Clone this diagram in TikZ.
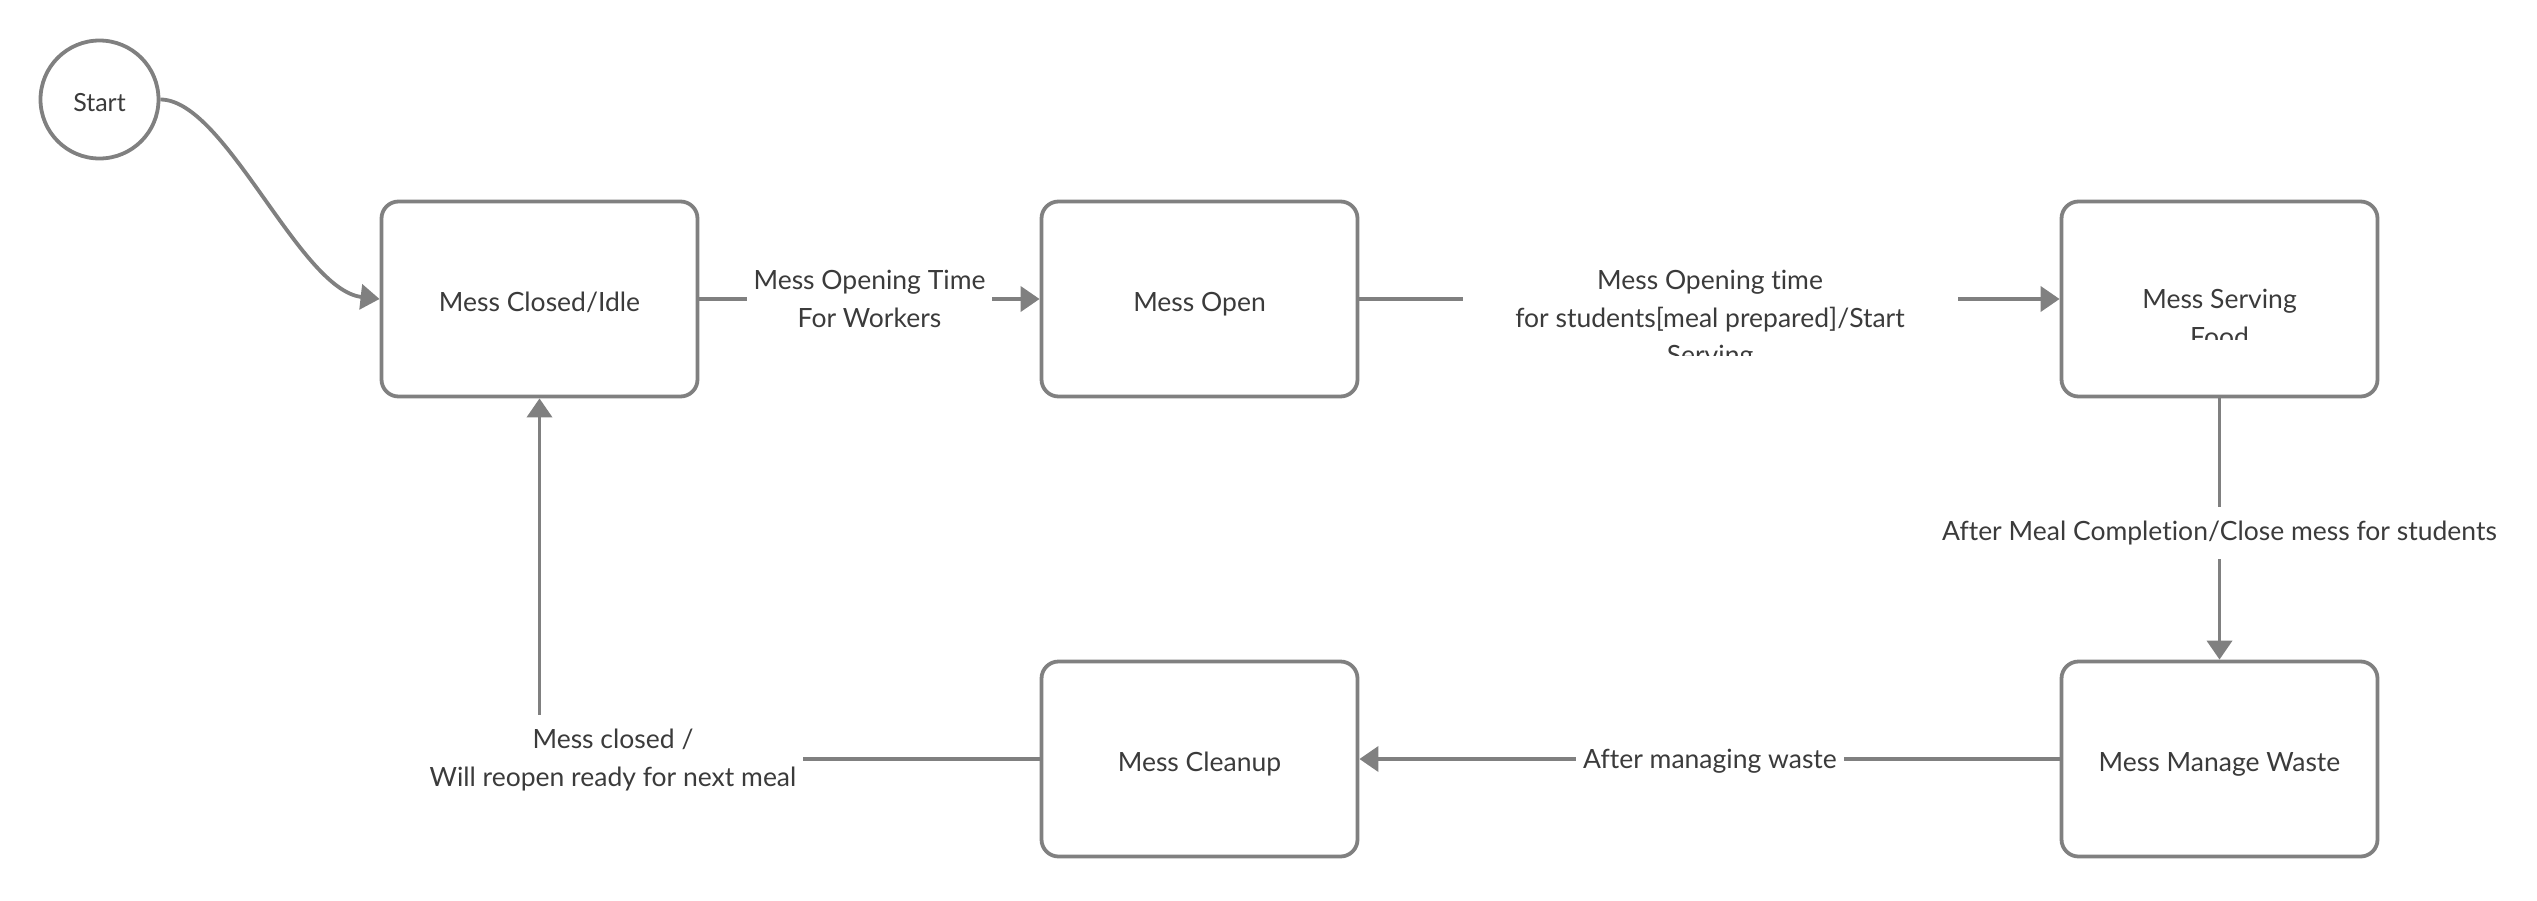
\documentclass[tikz,border=0pt]{standalone}
\usepackage{fontspec}
\setmainfont{Lato}[Ligatures=NoCommon]
\usetikzlibrary{arrows.meta}
\definecolor{lc}{HTML}{808080}
\definecolor{tc}{HTML}{3B3B3B}
\begin{document}
\begin{tikzpicture}[x=1pt,y=-1pt,
  every node/.style={font=\fontsize{26.5}{37.5}\selectfont, text=tc},
  state/.style={draw=lc, line width=3.8pt, rounded corners=17pt, minimum width=316pt, minimum height=195pt, inner sep=0pt, text height=25pt, text depth=0pt},
  startnode/.style={draw=lc, line width=3.8pt, circle, minimum size=118pt, inner sep=0pt, text height=23pt, text depth=0pt, font=\fontsize{25}{30}\selectfont},
  conn/.style={draw=lc, line width=3.8pt, -{Triangle[length=19pt,width=25pt]}},
  lbl/.style={fill=white, align=center, inner xsep=7pt, inner ysep=14pt}]
\useasboundingbox (0,0) rectangle (2537,900);

\node[startnode] (start) at (99.5,99.5) {Start};
\node[state] (closed) at (539.5,299) {Mess Closed/Idle};
\node[state] (open) at (1199.5,299) {Mess Open};
\node[state] (serving) at (2219.5,299) {};
\node[state] (waste) at (2219.5,759) {Mess Manage Waste};
\node[state] (cleanup) at (1199.5,759) {Mess Cleanup};

\begin{scope}
  \clip (2062,202) rectangle (2377,339);
  \node[anchor=north, align=center, inner sep=0pt] (servingtext) at (2219.5,289.4) {Mess Serving\\Food};
\end{scope}

\draw[conn] (start.east) .. controls +(65,0) and +(-80,-9) .. (closed.west);
\draw[conn] (closed.east) -- (open.west);
\draw[conn] (open.east) -- (serving.west);
\draw[conn] (serving.south) -- (waste.north);
\draw[conn] (waste.west) -- (cleanup.east);
\draw[conn] (cleanup.west) -| (closed.south);

\node[lbl] (l1) at (869.5,299) {Mess Opening Time\\For Workers};
\begin{scope}
  \clip (1460,250) rectangle (1960,355);
  \node[lbl, anchor=north, inner ysep=0pt, minimum width=495pt] (l3) at (1710,270.4) {Mess Opening time\\for students[meal prepared]/Start\\Serving};
\end{scope}
\node[lbl] (l4) at (2219.5,533) {After Meal Completion/Close mess for students};
\node[lbl] (l5) at (1710,761) {After managing waste};
\node[lbl] (l6) at (613,760) {Mess closed /\\Will reopen ready for next meal};
\end{tikzpicture}
\end{document}
